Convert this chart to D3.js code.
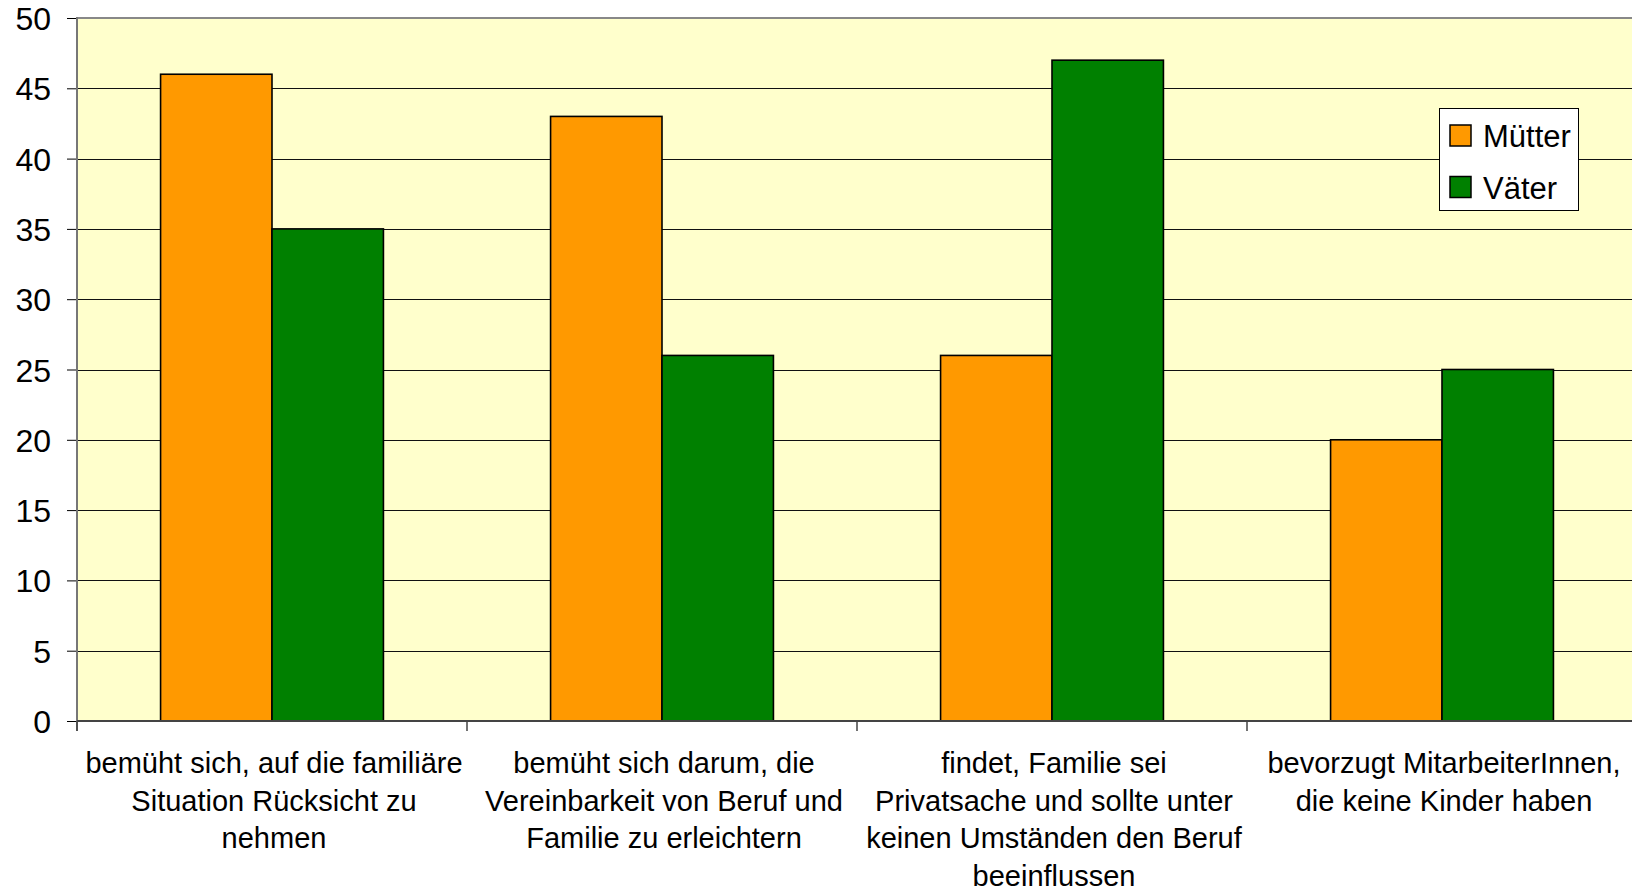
<!DOCTYPE html>
<html lang="de">
  <head>
    <meta charset="UTF-8">
    <title>Mütter und Väter</title>
    <style>
      body { margin: 0; background: #fff; }
      svg { display: block; font-family: "Liberation Sans", Arial, sans-serif; }
      .axis-y text { font-size: 32px; fill: #000; }
      .axis-y path { display: none; }
      .axis-y .tick line { stroke: #000; }
      .cat-label { font-size: 29px; fill: #000; }
      .legend text { font-size: 31px; fill: #000; }
    </style>
    <script src="https://d3js.org/d3.v7.min.js"></script>
  </head>
  <body>
    <script>
      const categories = [
        ["bemüht sich, auf die familiäre", "Situation Rücksicht zu", "nehmen"],
        ["bemüht sich darum, die", "Vereinbarkeit von Beruf und", "Familie zu erleichtern"],
        ["findet, Familie sei", "Privatsache und sollte unter", "keinen Umständen den Beruf", "beeinflussen"],
        ["bevorzugt MitarbeiterInnen,", "die keine Kinder haben"]
      ];
      const series = ["Mütter", "Väter"];
      const muetter = [46, 43, 26, 20];
      const vaeter = [35, 26, 47, 25];
      const yTicks = [0, 5, 10, 15, 20, 25, 30, 35, 40, 45, 50];
      const colors = ["#FF9900", "#008000"];

      const width = 1632, height = 891;
      const plot = { left: 77, right: 1637, top: 18, bottom: 721 };

      const svg = d3.select("body").append("svg")
        .attr("width", width)
        .attr("height", height);

      const catIds = categories.map((c, i) => i);
      const x = d3.scaleBand()
        .domain(catIds)
        .range([plot.left, plot.right]);

      const xSub = d3.scaleBand()
        .domain(series)
        .range([0, x.bandwidth()])
        .paddingInner(0)
        .paddingOuter(0.75);

      const y = d3.scaleLinear()
        .domain([0, 50])
        .range([plot.bottom, plot.top]);

      // plot background
      svg.append("rect")
        .attr("x", plot.left)
        .attr("y", plot.top)
        .attr("width", plot.right - plot.left)
        .attr("height", plot.bottom - plot.top)
        .attr("fill", "#FFFFCC");

      // gridlines
      svg.append("g")
        .selectAll("line")
        .data(yTicks.filter(t => t > 0 && t < 50))
        .join("line")
        .attr("x1", plot.left)
        .attr("x2", plot.right)
        .attr("y1", d => Math.round(y(d)) + 0.5)
        .attr("y2", d => Math.round(y(d)) + 0.5)
        .attr("stroke", "#111")
        .attr("stroke-width", 1);

      // top border
      svg.append("line")
        .attr("x1", plot.left).attr("x2", plot.right)
        .attr("y1", plot.top).attr("y2", plot.top)
        .attr("stroke", "#888").attr("stroke-width", 2);

      // y axis
      svg.append("g")
        .attr("class", "axis-y")
        .attr("transform", `translate(${plot.left},0)`)
        .call(d3.axisLeft(y).tickValues(yTicks).tickSize(10).tickPadding(16))
        .selectAll(".tick text")
        .attr("dy", "0.36em");

      svg.append("line")
        .attr("x1", plot.left).attr("x2", plot.left)
        .attr("y1", plot.top - 1).attr("y2", plot.bottom + 10)
        .attr("stroke", "#777").attr("stroke-width", 2);

      // bars
      const data = [];
      catIds.forEach(i => {
        data.push({ cat: i, s: series[0], v: muetter[i], c: colors[0] });
        data.push({ cat: i, s: series[1], v: vaeter[i], c: colors[1] });
      });

      svg.append("g")
        .selectAll("rect")
        .data(data)
        .join("rect")
        .attr("x", d => x(d.cat) + xSub(d.s))
        .attr("y", d => y(d.v))
        .attr("width", xSub.bandwidth())
        .attr("height", d => y(0) - y(d.v))
        .attr("fill", d => d.c)
        .attr("stroke", "#000")
        .attr("stroke-width", 1.6);

      // x axis line and boundary ticks
      svg.append("line")
        .attr("x1", plot.left).attr("x2", plot.right)
        .attr("y1", plot.bottom).attr("y2", plot.bottom)
        .attr("stroke", "#444").attr("stroke-width", 2);

      svg.append("g")
        .selectAll("line")
        .data(catIds.concat([catIds.length]))
        .join("line")
        .attr("x1", d => (d < catIds.length ? x(d) : plot.right))
        .attr("x2", d => (d < catIds.length ? x(d) : plot.right))
        .attr("y1", plot.bottom)
        .attr("y2", plot.bottom + 10)
        .attr("stroke", "#444")
        .attr("stroke-width", 1.5);

      // category labels
      const labels = svg.append("g")
        .selectAll("text")
        .data(categories)
        .join("text")
        .attr("class", "cat-label")
        .attr("text-anchor", "middle")
        .attr("x", (d, i) => x(i) + x.bandwidth() / 2 + 2)
        .attr("y", 773);

      labels.selectAll("tspan")
        .data(d => d)
        .join("tspan")
        .attr("x", function () { return d3.select(this.parentNode).attr("x"); })
        .attr("dy", (d, i) => (i === 0 ? 0 : 37.7))
        .text(d => d);

      // legend
      const legend = svg.append("g").attr("class", "legend");
      legend.append("rect")
        .attr("x", 1439.5).attr("y", 108.5)
        .attr("width", 139).attr("height", 102)
        .attr("fill", "#fff")
        .attr("stroke", "#000").attr("stroke-width", 1);

      const items = legend.selectAll("g.item")
        .data(series)
        .join("g")
        .attr("class", "item")
        .attr("transform", (d, i) => `translate(1450, ${125 + i * 51.5})`);

      items.append("rect")
        .attr("width", 21).attr("height", 21)
        .attr("fill", (d, i) => colors[i])
        .attr("stroke", "#000").attr("stroke-width", 1.5);

      items.append("text")
        .attr("x", 33)
        .attr("y", 22)
        .text(d => d);
    </script>
  </body>
</html>
